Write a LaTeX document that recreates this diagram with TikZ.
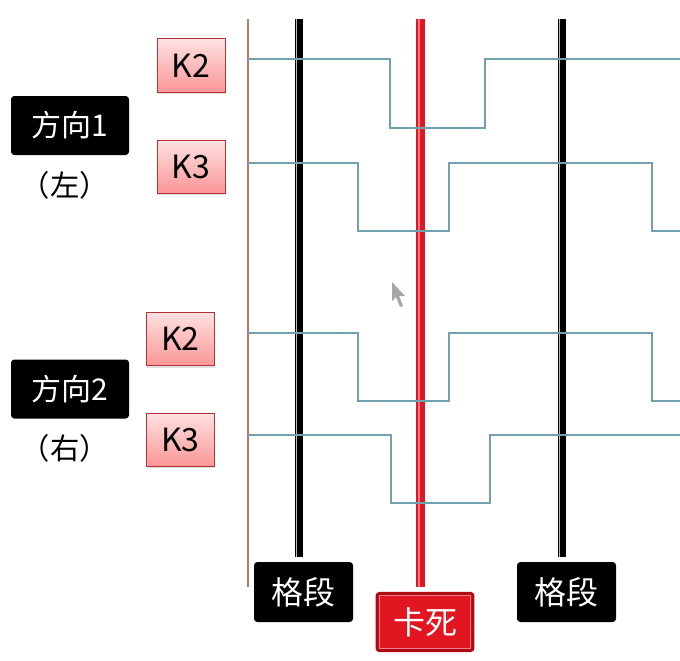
\documentclass[tikz,border=0pt]{standalone}
\usepackage{fontspec}
\setmainfont{Noto Sans CJK SC}
\usetikzlibrary{shadows}

\definecolor{waveclr}{RGB}{115,160,175}
\definecolor{axisclr}{RGB}{190,120,100}
\definecolor{kedge}{RGB}{180,50,55}
\definecolor{ktop}{RGB}{255,225,225}
\definecolor{kbot}{RGB}{250,150,150}
\definecolor{stuckred}{RGB}{225,22,32}
\definecolor{stuckedge}{RGB}{175,10,20}
\definecolor{stuckhl}{RGB}{240,125,135}

\tikzset{every picture/.style={line width=0.75pt}}
\tikzset{
  dirbox/.style={fill=black, text=white, rounded corners=2.5pt, minimum width=88.5pt, minimum height=44.25pt, inner sep=0pt, font=\fontsize{22.5}{25}\selectfont},
  kbox/.style={draw=kedge, top color=ktop, bottom color=kbot, minimum width=51pt, minimum height=39.75pt, inner sep=0pt, font=\fontsize{24}{26}\selectfont, drop shadow={shadow xshift=0pt, shadow yshift=-1.5pt, opacity=0.25}},
  gdbox/.style={fill=black, text=white, rounded corners=2.5pt, minimum width=74.25pt, minimum height=45pt, inner sep=0pt, font=\fontsize{24}{26}\selectfont},
  stuckbox/.style={fill=stuckred, draw=stuckedge, line width=2.2pt, rounded corners=2pt, text=white, minimum width=72pt, minimum height=43pt, inner sep=0pt, font=\fontsize{24}{26}\selectfont},
  sidetext/.style={font=\fontsize{22}{24}\selectfont, inner sep=0pt},
  wave/.style={draw=waveclr, line width=0.9pt},
  gridline/.style={draw=black, line width=6pt, postaction={draw=gray!55, line width=0.9pt, transform canvas={xshift=-1.6pt}}},
  stuckline/.style={draw=stuckred, line width=6.75pt, postaction={draw=stuckhl, line width=1.4pt, transform canvas={xshift=-1.2pt}}}
}

\begin{document}
\begin{tikzpicture}[x=0.75pt,y=0.75pt,yscale=-1,xscale=1]
\useasboundingbox (0,0) rectangle (680,660);

% Text Node
\node[dirbox] (dir1) at (70,125.5) {方向1};
\node[sidetext] (left) at (65,185) {（左）};
\node[dirbox] (dir2) at (70,389) {方向2};
\node[sidetext] (right) at (65,448) {（右）};

% Text Node
\node[kbox] (k2a) at (191,65.5) {K2};
\node[kbox] (k3a) at (191,166.5) {K3};
\node[kbox] (k2b) at (180.5,339) {K2};
\node[kbox] (k3b) at (180.5,439.5) {K3};

% Text Node
\node[gdbox] (gd1) at (303.5,592) {格段};
\node[gdbox] (gd2) at (566.5,592) {格段};
\node[stuckbox] (stuck) at (425,622) {卡死};
\draw[stuckhl, line width=0.6pt] ([shift={(4,4)}]stuck.north west) rectangle ([shift={(-4,-4)}]stuck.south east);

%Straight Lines
\draw[axisclr, line width=0.9pt] (248,19) -- (248,587);

%Straight Lines
\coordinate (g1top) at (298.5,19);
\coordinate (g2top) at (562,19);
\coordinate (stop) at (420.5,19);
\draw[gridline, shorten >=3.75pt] (g1top) -- (g1top |- gd1.north);
\draw[gridline, shorten >=3.75pt] (g2top) -- (g2top |- gd2.north);
\draw[stuckline, shorten >=3.75pt] (stop) -- (stop |- stuck.north);

%Waves
\draw[wave] (248,59) -- (390,59) -- (390,128) -- (485,128) -- (485,59) -- (680,59);
\draw[wave] (248,163) -- (358,163) -- (358,231) -- (449,231) -- (449,163) -- (652,163) -- (652,231) -- (680,231);
\draw[wave] (248,333) -- (358,333) -- (358,401) -- (449,401) -- (449,333) -- (652,333) -- (652,401) -- (680,401);
\draw[wave] (248,435) -- (391,435) -- (391,503) -- (490,503) -- (490,435) -- (680,435);

%Cursor
\fill[gray!70] (392,282) -- (392,301) -- (396,297) -- (400,307) -- (403,306) -- (399,296) -- (405,296) -- cycle;

\end{tikzpicture}
\end{document}
